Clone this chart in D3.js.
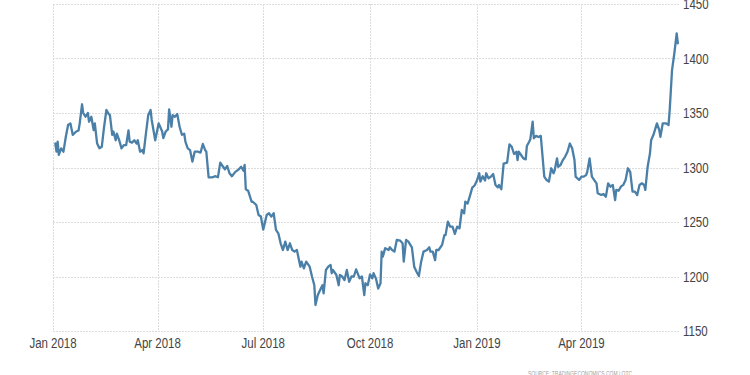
<!DOCTYPE html>
<html><head><meta charset="utf-8">
<script src="https://cdn.jsdelivr.net/npm/d3@7"></script>
<style>
html,body{margin:0;padding:0;background:#fff;}
svg{display:block;}
.lbl{font-family:'Liberation Sans',Arial,sans-serif;fill:#444;}
</style></head>
<body><svg id="c" width="750" height="375"></svg>
<script>
const dates = ["2018-01-03","2018-01-04","2018-01-05","2018-01-06","2018-01-08","2018-01-10","2018-01-12","2018-01-14","2018-01-16","2018-01-18","2018-01-21","2018-01-23","2018-01-24","2018-01-26","2018-01-27","2018-01-29","2018-01-31","2018-02-01","2018-02-03","2018-02-05","2018-02-06","2018-02-08","2018-02-10","2018-02-12","2018-02-14","2018-02-16","2018-02-18","2018-02-19","2018-02-21","2018-02-22","2018-02-24","2018-02-25","2018-02-27","2018-03-01","2018-03-03","2018-03-05","2018-03-07","2018-03-08","2018-03-10","2018-03-12","2018-03-14","2018-03-15","2018-03-17","2018-03-19","2018-03-20","2018-03-22","2018-03-24","2018-03-26","2018-03-27","2018-03-30","2018-04-02","2018-04-05","2018-04-06","2018-04-08","2018-04-10","2018-04-11","2018-04-13","2018-04-14","2018-04-16","2018-04-18","2018-04-20","2018-04-22","2018-04-24","2018-04-25","2018-04-27","2018-04-29","2018-05-01","2018-05-03","2018-05-06","2018-05-08","2018-05-10","2018-05-12","2018-05-13","2018-05-15","2018-05-18","2018-05-21","2018-05-23","2018-05-25","2018-05-27","2018-05-29","2018-05-31","2018-06-02","2018-06-04","2018-06-07","2018-06-10","2018-06-12","2018-06-14","2018-06-15","2018-06-16","2018-06-18","2018-06-21","2018-06-22","2018-06-25","2018-06-27","2018-06-29","2018-07-01","2018-07-04","2018-07-06","2018-07-08","2018-07-10","2018-07-12","2018-07-14","2018-07-16","2018-07-18","2018-07-20","2018-07-22","2018-07-24","2018-07-26","2018-07-28","2018-07-30","2018-08-02","2018-08-03","2018-08-05","2018-08-07","2018-08-10","2018-08-12","2018-08-14","2018-08-15","2018-08-17","2018-08-19","2018-08-21","2018-08-22","2018-08-24","2018-08-26","2018-08-28","2018-08-29","2018-08-30","2018-09-02","2018-09-04","2018-09-05","2018-09-07","2018-09-09","2018-09-11","2018-09-13","2018-09-15","2018-09-17","2018-09-19","2018-09-22","2018-09-24","2018-09-26","2018-09-27","2018-09-29","2018-10-01","2018-10-03","2018-10-04","2018-10-06","2018-10-08","2018-10-10","2018-10-11","2018-10-12","2018-10-14","2018-10-17","2018-10-18","2018-10-20","2018-10-22","2018-10-24","2018-10-27","2018-10-29","2018-10-30","2018-11-01","2018-11-03","2018-11-06","2018-11-08","2018-11-10","2018-11-12","2018-11-14","2018-11-16","2018-11-19","2018-11-21","2018-11-22","2018-11-24","2018-11-26","2018-11-27","2018-11-29","2018-12-02","2018-12-04","2018-12-05","2018-12-07","2018-12-09","2018-12-11","2018-12-13","2018-12-15","2018-12-17","2018-12-19","2018-12-21","2018-12-22","2018-12-24","2018-12-26","2018-12-28","2018-12-30","2019-01-01","2019-01-03","2019-01-04","2019-01-06","2019-01-08","2019-01-09","2019-01-11","2019-01-13","2019-01-15","2019-01-17","2019-01-19","2019-01-20","2019-01-22","2019-01-24","2019-01-27","2019-01-29","2019-01-31","2019-02-02","2019-02-04","2019-02-05","2019-02-06","2019-02-08","2019-02-10","2019-02-12","2019-02-13","2019-02-15","2019-02-16","2019-02-18","2019-02-19","2019-02-21","2019-02-23","2019-02-25","2019-02-28","2019-03-02","2019-03-04","2019-03-06","2019-03-08","2019-03-09","2019-03-11","2019-03-12","2019-03-14","2019-03-16","2019-03-18","2019-03-20","2019-03-22","2019-03-24","2019-03-26","2019-03-27","2019-03-30","2019-04-01","2019-04-03","2019-04-05","2019-04-06","2019-04-08","2019-04-10","2019-04-12","2019-04-14","2019-04-15","2019-04-18","2019-04-20","2019-04-22","2019-04-24","2019-04-26","2019-04-28","2019-04-30","2019-05-01","2019-05-03","2019-05-05","2019-05-07","2019-05-09","2019-05-11","2019-05-13","2019-05-15","2019-05-17","2019-05-19","2019-05-21","2019-05-23","2019-05-25","2019-05-26","2019-05-28","2019-05-30","2019-05-31","2019-06-02","2019-06-05","2019-06-07","2019-06-08","2019-06-10","2019-06-13","2019-06-15","2019-06-16","2019-06-18","2019-06-20","2019-06-22","2019-06-23"];

const prices = [1322,1314.5,1323.7,1311.5,1317.6,1314.5,1328,1339,1340.5,1330,1333,1334,1340.5,1358,1350,1346.6,1350,1342,1346.6,1334.4,1340.5,1322,1317.6,1319,1337.4,1352.8,1349,1348,1330,1333,1325,1331,1325,1317.6,1320.6,1320.6,1334,1323.7,1322.8,1325,1322,1325,1314.5,1316,1313,1331,1348,1352.8,1343.6,1325,1340.5,1333,1327,1333,1335,1353.4,1337.4,1348,1346.6,1349,1337.4,1330,1331,1323.7,1317.6,1316,1305.4,1314.5,1314.5,1313.6,1321.6,1316,1314.5,1291,1291,1292,1291,1304.5,1301.4,1298.3,1301.4,1294.7,1292,1296,1298.3,1300.7,1297,1302.3,1280,1278.7,1268.6,1268.6,1265.6,1256.4,1255,1243,1256.4,1258,1255,1258,1242.7,1239.6,1230.5,1224.3,1232,1224.3,1230.5,1224.3,1222.8,1224.3,1209,1213.6,1207.5,1213.6,1209,1200,1192,1173.9,1183,1187.6,1192,1184.6,1206,1209,1210.6,1203,1206,1201.4,1192,1201.4,1200,1196.8,1206,1195.2,1200,1200,1206.6,1198.3,1200,1183,1193.8,1192,1202,1198.3,1203,1198.3,1189,1193.8,1222.8,1218.2,1226,1224.3,1226.8,1224.3,1222.8,1233.5,1232.8,1230.5,1213.6,1233.5,1232,1226.8,1209,1204.4,1200.5,1213.6,1222.8,1224.3,1226.8,1222.8,1222.8,1215,1224.3,1224.3,1229,1238,1238,1250.3,1245.7,1245.7,1239,1245.7,1244.2,1261,1258,1268.6,1267,1274,1281.5,1283.5,1288,1294.7,1287,1292,1288,1294.7,1290,1291.6,1294,1284,1281.8,1284,1280,1303.5,1304.5,1321.3,1319,1312.4,1314.5,1306.8,1314.5,1311.5,1308.4,1307.5,1319.7,1323.7,1326,1342,1326.8,1329,1328,1329,1291.6,1288.5,1287,1299.3,1294.7,1297.7,1308.4,1300.7,1302.3,1306.8,1310,1314.5,1322,1317.6,1306.8,1291.6,1288.5,1291.6,1291.6,1293,1296,1308.4,1291.6,1288.5,1285.5,1276.3,1274.8,1275.7,1273.2,1285.5,1282.4,1284,1270,1279.4,1278.7,1282.4,1284,1288.5,1299.3,1296,1277.8,1277.8,1274.8,1284,1285.5,1284,1279.4,1300.7,1313,1325,1330,1340.5,1334.4,1328.2,1340.5,1340.5,1339,1352.8,1389.4,1404.8,1423,1414];

const xTicks = ["2018-01-01","2018-04-01","2018-07-01","2018-10-01","2019-01-01","2019-04-01"];
const yTicks = [1150,1200,1250,1300,1350,1400,1450];
const xDomain = ["2018-01-01","2019-06-24"];
const yDomain = [1150,1450];
const sourceText = "SOURCE: TRADINGECONOMICS.COM | OTC";

const parse = d3.timeParse("%Y-%m-%d");
const fmt = d3.timeFormat("%b %Y");
const data = dates.map((d,i)=>({date:parse(d), value:prices[i]}));

const mL = 53, mR = 679, mT = 4, mB = 331;
const x = d3.scaleTime().domain(xDomain.map(parse)).range([mL, mR]);
const y = d3.scaleLinear().domain(yDomain).range([mB, mT]);
const narrow = 0.82;

const svg = d3.select("#c");

// horizontal grid
svg.append("g").selectAll("line").data(yTicks).join("line")
  .attr("x1", mL).attr("x2", mR)
  .attr("y1", d=>Math.round(y(d))+0.5).attr("y2", d=>Math.round(y(d))+0.5)
  .attr("stroke", "#dcdcdc").attr("stroke-width", 1).attr("stroke-dasharray","2,1");

// vertical grid
svg.append("g").selectAll("line").data(xTicks.map(parse)).join("line")
  .attr("x1", d=>Math.round(x(d))+0.5).attr("x2", d=>Math.round(x(d))+0.5)
  .attr("y1", mT).attr("y2", mB)
  .attr("stroke", "#dcdcdc").attr("stroke-width", 1).attr("stroke-dasharray","2,1");

// y labels (right)
svg.append("g").selectAll("text").data(yTicks).join("text")
  .attr("class","lbl")
  .attr("transform", d=>`translate(${mR + 4},${y(d) + 5}) scale(${narrow},1)`)
  .attr("font-size", 14)
  .text(d=>d);

// x labels
svg.append("g").selectAll("text").data(xTicks.map(parse)).join("text")
  .attr("class","lbl")
  .attr("transform", d=>`translate(${x(d)},348) scale(${narrow},1)`)
  .attr("text-anchor","middle")
  .attr("font-size", 14)
  .text(d=>fmt(d));

// line
const line = d3.line().x(d=>x(d.date)).y(d=>y(d.value));
svg.append("path").datum(data)
  .attr("d", line)
  .attr("fill","none")
  .attr("stroke","#4a7fa8")
  .attr("stroke-width", 2.3)
  .attr("stroke-linejoin","round")
  .attr("stroke-linecap","round");

// source
svg.append("text")
  .attr("class","lbl")
  .attr("x", 528).attr("y", 376)
  .attr("font-size", 8)
  .attr("textLength", 104)
  .attr("lengthAdjust", "spacingAndGlyphs")
  .style("fill","#a0a0a0")
  .text(sourceText);
</script></body></html>
